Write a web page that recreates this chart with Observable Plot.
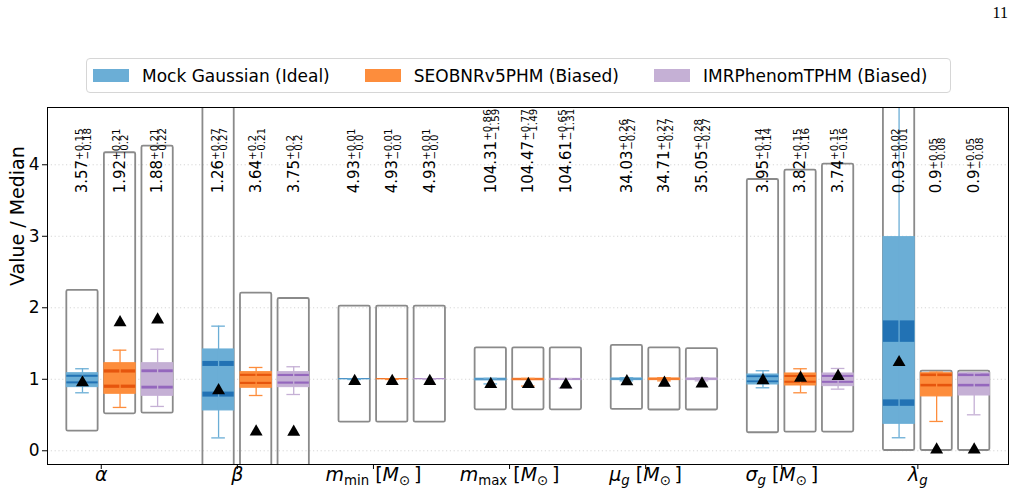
<!DOCTYPE html>
<html>
<head>
<meta charset="utf-8">
<script src="https://cdn.jsdelivr.net/npm/d3@7"></script>
<script src="https://cdn.jsdelivr.net/npm/@observablehq/plot@0.6"></script>
<style>
  body { margin: 0; background: #fff; }
  #page { position: relative; width: 1020px; height: 500px; overflow: hidden; font-family: "DejaVu Sans", sans-serif; color: #000; }
  #folio { position: absolute; right: 12px; top: 4px; font-family: "Liberation Serif", serif; font-size: 16px; }
  #key { position: absolute; left: 86px; top: 58px; width: 865px; height: 35px; box-sizing: border-box;
         border: 1px solid #d6d6d6; border-radius: 4px; display: flex; align-items: center; padding-left: 6px; }
  #key .lg-swatches { margin: 0 !important; font-family: "DejaVu Sans", sans-serif !important; font-size: 17px !important;
         display: flex !important; flex-wrap: nowrap !important; align-items: center; flex: none; white-space: nowrap; min-height: 0 !important; }
  #key .lg-swatch { margin-right: 35px !important; white-space: nowrap; }
  #key .lg-swatch > svg { margin-right: 13px !important; }
  #chart { position: absolute; left: 0; top: 100px; }
</style>
</head>
<body>
<div id="page">
  <div id="folio">11</div>
  <div id="key"></div>
  <div id="chart"></div>
</div>
<script>
// Hyper-parameters along the x axis (plain names, and the math-styled tick labels)
const paramNames = ["α", "β", "m_min [M⊙]", "m_max [M⊙]", "μ_g [M⊙]", "σ_g [M⊙]", "λ_g"];
const paramLabels = [
  [{t: "α", italic: 1}],
  [{t: "β", italic: 1}],
  [{t: "m", italic: 1}, {t: "min", sub: 1}, {t: " ["}, {t: "M", italic: 1}, {t: "⊙", sub: 1}, {t: "\u2009]"}],
  [{t: "m", italic: 1}, {t: "max", sub: 1}, {t: " ["}, {t: "M", italic: 1}, {t: "⊙", sub: 1}, {t: "\u2009]"}],
  [{t: "μ", italic: 1}, {t: "g", sub: 1, italic: 1}, {t: " ["}, {t: "M", italic: 1}, {t: "⊙", sub: 1}, {t: "\u2009]"}],
  [{t: "σ", italic: 1}, {t: "g", sub: 1, italic: 1}, {t: " ["}, {t: "M", italic: 1}, {t: "⊙", sub: 1}, {t: "\u2009]"}],
  [{t: "λ", italic: 1}, {t: "g", sub: 1, italic: 1}]
];

// Waveform models (one row per model in every table below)
const seriesNames = ["Mock Gaussian (Ideal)", "SEOBNRv5PHM (Biased)", "IMRPhenomTPHM (Biased)"];
const fills = ["#6baed6", "#fd8d3c", "#c5b0d5"];
const bandColors = ["#2272b4", "#e6550d", "#9467bd"];

// Posterior medians and 68% errors (as printed above each box)
const medians = [
  [3.57, 1.26, 4.93, 104.31, 34.03, 3.95, 0.03],
  [1.92, 3.64, 4.93, 104.47, 34.71, 3.82, 0.9],
  [1.88, 3.75, 4.93, 104.61, 35.05, 3.74, 0.9]
];
const errPlus = [
  [0.15, 0.27, 0.01, 0.86, 0.26, 0.14, 0.02],
  [0.21, 0.2, 0.01, 0.77, 0.27, 0.15, 0.05],
  [0.21, 0.2, 0.01, 0.65, 0.28, 0.15, 0.05]
];
const errMinus = [
  [0.18, 0.27, 0.0, 1.59, 0.27, 0.14, 0.01],
  [0.2, 0.21, 0.0, 1.49, 0.27, 0.16, 0.08],
  [0.22, 0.2, 0.0, 1.31, 0.27, 0.16, 0.08]
];

// Normalised (value / median) quantities
const boxLo = [
  [0.89, 0.564, 0.998, 0.985, 0.988, 0.927, 0.377],
  [0.797, 0.881, 0.998, 0.986, 0.988, 0.913, 0.76],
  [0.769, 0.89, 0.998, 0.988, 0.988, 0.904, 0.773]
];
const boxHi = [
  [1.085, 1.417, 1.002, 1.008, 1.012, 1.067, 2.988],
  [1.225, 1.10, 1.002, 1.007, 1.012, 1.081, 1.085],
  [1.225, 1.10, 1.002, 1.006, 1.012, 1.081, 1.085]
];
const whiskLo = [
  [0.811, 0.18, 0.997, 0.935, 0.978, 0.881, 0.182],
  [0.606, 0.773, 0.997, 0.905, 0.978, 0.811, 0.41],
  [0.62, 0.787, 0.997, 0.88, 0.978, 0.862, 0.503]
];
const whiskHi = [
  [1.147, 1.743, 1.003, 1.012, 1.022, 1.119, 5.5],
  [1.407, 1.165, 1.003, 1.012, 1.022, 1.147, 1.10],
  [1.421, 1.175, 1.003, 1.01, 1.022, 1.151, 1.09]
];
const priorLo = [
  [0.274, -0.5, 0.40, 0.573, 0.578, 0.252, 0.004],
  [0.517, -0.5, 0.40, 0.573, 0.57, 0.26, 0.004],
  [0.526, -0.5, 0.40, 0.573, 0.57, 0.262, 0.004]
];
const priorHi = [
  [2.242, 5.5, 2.023, 1.44, 1.473, 3.794, 5.5],
  [4.168, 2.204, 2.023, 1.44, 1.44, 3.925, 1.113],
  [4.26, 2.13, 2.023, 1.44, 1.428, 4.009, 1.113]
];
const truthRatio = [
  [0.98, 0.87, 1.0, 0.958, 0.995, 1.01, 1.263],
  [1.82, 0.294, 1.0, 0.958, 0.975, 1.045, 0.04],
  [1.86, 0.29, 1.0, 0.95, 0.965, 1.07, 0.04]
];
// spread of the upper / lower error bands (value / median units)
const bandHiSpread = [
  [0.028, 0.07, 0.004, 0.006, 0.004, 0.025, 0.30],
  [0.045, 0.03, 0.004, 0.006, 0.004, 0.028, 0.036],
  [0.04, 0.03, 0.004, 0.006, 0.004, 0.028, 0.036]
];
const bandLoSpread = [
  [0.028, 0.07, 0.004, 0.006, 0.004, 0.025, 0.09],
  [0.045, 0.03, 0.004, 0.006, 0.004, 0.028, 0.036],
  [0.04, 0.03, 0.004, 0.006, 0.004, 0.028, 0.036]
];

const yTicks = [0, 1, 2, 3, 4];

// ---- layout constants ----
const slot = 0.276, boxW = 0.23, capW = 0.1, labelLevel = 3.6;
const groups = d3.range(paramNames.length);
const fmt = v => Number.isInteger(v) ? v.toFixed(1) : String(v);

const boxes = [];
seriesNames.forEach((s, j) => groups.forEach(i => {
  const med = medians[j][i], up = errPlus[j][i], dn = errMinus[j][i];
  boxes.push({
    j, i, xc: i + (j - 0.5) * slot, med, up, dn,
    b0: boxLo[j][i], b1: boxHi[j][i],
    w0: whiskLo[j][i], w1: whiskHi[j][i],
    o0: priorLo[j][i], o1: priorHi[j][i],
    t: truthRatio[j][i],
    hiC: 1 + up / med, loC: 1 - dn / med,
    hiS: bandHiSpread[j][i], loS: bandLoSpread[j][i]
  });
}));
const bands = boxes.flatMap(d => [
  {j: d.j, xc: d.xc, y1: d.hiC - d.hiS / 2, y2: d.hiC + d.hiS / 2},
  {j: d.j, xc: d.xc, y1: d.loC - d.loS / 2, y2: d.loC + d.loS / 2}
]);
const caps = boxes.flatMap(d => [{j: d.j, xc: d.xc, y: d.w0}, {j: d.j, xc: d.xc, y: d.w1}]);

const left = d => d.xc - boxW / 2, right = d => d.xc + boxW / 2;

const chart = Plot.plot({
  width: 1020, height: 400,
  marginLeft: 47, marginRight: 12, marginTop: 7, marginBottom: 36,
  x: {domain: [-0.395, 6.666], axis: null},
  y: {domain: [-0.192, 4.801], axis: null},
  color: {type: "identity"},
  style: {fontFamily: "DejaVu Sans, sans-serif", fontSize: "16px", background: "white", color: "black"},
  marks: [
    Plot.gridY(yTicks, {stroke: "#b8b8b8", strokeOpacity: 0.7, strokeDasharray: "1.2,2.6", strokeWidth: 0.8}),
    // prior range outlines
    Plot.rect(boxes, {x1: left, x2: right, y1: "o0", y2: "o1", fill: "none", stroke: "#8a8a8a", strokeWidth: 1.8, rx: 1.5, clip: true}),
    // posterior boxes
    Plot.rect(boxes, {x1: left, x2: right, y1: "b0", y2: "b1", fill: d => fills[d.j], stroke: d => fills[d.j], strokeWidth: 1, clip: true}),
    // error bands from the printed errors
    Plot.rect(bands, {x1: left, x2: right, y1: "y1", y2: "y2", fill: d => bandColors[d.j], clip: true}),
    // whiskers
    Plot.ruleX(boxes, {x: "xc", y1: "w0", y2: "w1", stroke: d => fills[d.j], strokeWidth: 1.3, clip: true}),
    Plot.ruleY(caps, {y: "y", x1: d => d.xc - capW / 2, x2: d => d.xc + capW / 2, stroke: d => fills[d.j], strokeWidth: 1.3, clip: true}),
    // injected values
    Plot.dot(boxes, {x: "xc", y: "t", symbol: "triangle", r: 4.8, fill: "black", stroke: null, dy: 1.9}),
    // median and error labels
    Plot.text(boxes, {x: "xc", y: () => labelLevel, rotate: -90, textAnchor: "start", fontSize: 15,
      text: d => `${fmt(d.med)}+${fmt(d.up)}−${fmt(d.dn)}`, ariaDescription: "value labels"}),
    Plot.axisY({ticks: yTicks, tickSize: 5, tickPadding: 3, fontSize: 17, tickFormat: d => String(d), label: null}),
    Plot.axisX({ticks: groups, tickSize: 5, tickFormat: () => "", label: null}),
    Plot.text(groups, {x: d => d, text: d => paramNames[d], frameAnchor: "bottom", lineAnchor: "bottom", dy: 16.5, fontSize: 19, ariaDescription: "param labels"}),
    Plot.text(["Value / Median"], {frameAnchor: "left", rotate: -90, dx: -30, fontSize: 19}),
    Plot.frame({stroke: "black", strokeWidth: 1})
  ]
});

// rich text: baseline shifts, script sizes and italics as tspans
const SVGNS = "http://www.w3.org/2000/svg";
function setRich(el, parts, size) {
  el.textContent = "";
  let shift = 0;
  for (const p of parts) {
    const ts = document.createElementNS(SVGNS, "tspan");
    const target = p.shift || 0;
    if (p.x !== undefined) ts.setAttribute("x", p.x.toFixed(2));
    if (target !== shift) { ts.setAttribute("dy", (target - shift).toFixed(2)); shift = target; }
    if (p.size) ts.setAttribute("font-size", p.size.toFixed(2));
    if (p.italic) ts.setAttribute("font-style", "italic");
    ts.textContent = p.t;
    el.appendChild(ts);
  }
}
// DejaVu Sans advance widths for digits and the decimal point
const advance = s => [...s].reduce((w, c) => w + (c === "." ? 0.318 : 0.636), 0);

function textsOf(desc) {
  const g = [...chart.querySelectorAll("g")].find(n => n.getAttribute("aria-description") === desc);
  return g ? [...g.querySelectorAll("text")] : [];
}

textsOf("value labels").forEach((el, k) => {
  const d = boxes[k], main = fmt(d.med), size = 15, small = 10.3;
  setRich(el, [
    {t: main},
    {t: "+" + fmt(d.up), size: small, shift: -4.6},
    {t: "−" + fmt(d.dn), size: small, shift: 3.6, x: advance(main) * size + 0.6}
  ], size);
});
textsOf("param labels").forEach((el, k) => {
  const size = 19;
  setRich(el, paramLabels[k].map(p => ({
    t: p.t, italic: p.italic,
    size: p.sub ? size * 0.7 : undefined,
    shift: p.sub ? size * 0.2 : 0
  })), size);
});

document.getElementById("chart").append(chart);

const key = Plot.legend({
  color: {type: "ordinal", domain: seriesNames, range: fills},
  legend: "swatches", className: "lg", swatchWidth: 36, swatchHeight: 13,
  style: {fontFamily: "DejaVu Sans, sans-serif", fontSize: "17px", color: "black"}
});
document.getElementById("key").append(key);
</script>
</body>
</html>
